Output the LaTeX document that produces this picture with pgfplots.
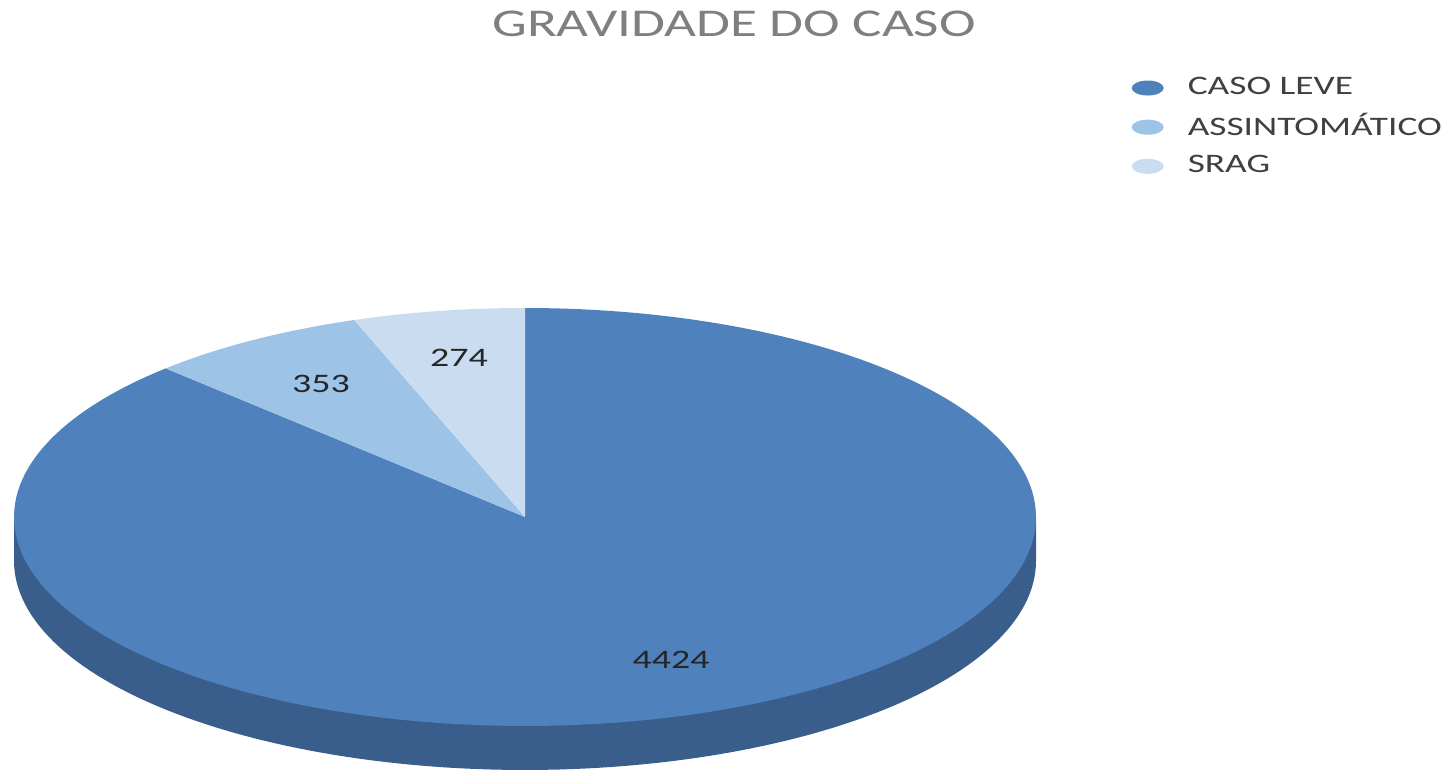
\documentclass[border=0pt]{standalone}
\usepackage{pgfplots}
\usepackage{pgfplotstable}
\pgfplotsset{compat=1.18}
\usepackage{fontspec}
\setmainfont{Carlito}
\definecolor{cLeve}{HTML}{4F81BD}
\definecolor{cLeveSide}{HTML}{3A5E8C}
\definecolor{cAssint}{HTML}{9DC3E6}
\definecolor{cSrag}{HTML}{C9DCF0}
\definecolor{titlegray}{HTML}{7F7F7F}
\definecolor{legtext}{HTML}{404040}
\pgfplotstableread{
label value
LEVE 4424
ASSINT 353
SRAG 274
}\piedata
\begin{document}%
\begin{tikzpicture}
\pgfplotstablegetelem{0}{value}\of\piedata \let\vLeve\pgfplotsretval
\pgfplotstablegetelem{1}{value}\of\piedata \let\vAssint\pgfplotsretval
\pgfplotstablegetelem{2}{value}\of\piedata \let\vSrag\pgfplotsretval
\pgfmathsetmacro{\tot}{\vLeve+\vAssint+\vSrag}
\pgfmathsetmacro{\aA}{90}
\pgfmathsetmacro{\aB}{90+360*(\vSrag/\tot)}
\pgfmathsetmacro{\aC}{\aB+360*(\vAssint/\tot)}
\pgfmathsetmacro{\aD}{450}
\def\cx{525}\def\cy{253}\def\rA{511}\def\rB{209}\def\dep{44}
\begin{axis}[
  name=ax,
  scale only axis, width=14.56cm, height=7.7cm,
  xmin=0, xmax=1456, ymin=0, ymax=770,
  hide axis, clip=false,
  legend style={draw=none, fill=none, at={(axis cs:1131,701)}, anchor=north west,
    font=\fontsize{7.6}{9}\selectfont\color{legtext}, row sep=0pt, inner sep=0pt,
    /tikz/every even column/.append style={column sep=0pt}},
  legend cell align=left,
  legend image code/.code={\fill[#1] (0.29cm,0cm) ellipse [x radius=0.16cm, y radius=0.075cm];
    \path[draw=none, fill=none] (0.13cm,0cm) (0.62cm,0cm);},
]
% side wall
\addplot[forget plot, fill=cLeveSide, draw=none, domain=180:360, samples=120, variable=\t]
  ({\cx+\rA*cos(t)}, {\cy-\dep+\rB*sin(t)}) -- (axis cs:\cx+\rA,\cy) -- (axis cs:\cx-\rA,\cy) -- cycle;
% top faces
\addplot[fill=cLeve, draw=none, domain=\aC:\aD, samples=200, variable=\t]
  ({\cx+\rA*cos(t)}, {\cy+\rB*sin(t)}) -- (axis cs:\cx,\cy) -- cycle;
\addlegendentry{\scalebox{1.4}[1]{CASO LEVE}}
\addplot[fill=cAssint, draw=none, domain=\aB:\aC, samples=40, variable=\t]
  ({\cx+\rA*cos(t)}, {\cy+\rB*sin(t)}) -- (axis cs:\cx,\cy) -- cycle;
\addlegendentry{\scalebox{1.4}[1]{ASSINTOMÁTICO}}
\addplot[fill=cSrag, draw=none, domain=\aA:\aB, samples=40, variable=\t]
  ({\cx+\rA*cos(t)}, {\cy+\rB*sin(t)}) -- (axis cs:\cx,\cy) -- cycle;
\addlegendentry{\scalebox{1.4}[1]{SRAG}}
% labels
\node[xscale=1.42, font=\fontsize{7.6}{9}\selectfont, text=black!85] at (axis cs:321,386) {\vAssint};
\node[xscale=1.42, font=\fontsize{7.6}{9}\selectfont, text=black!85] at (axis cs:459,412) {\vSrag};
\node[xscale=1.42, font=\fontsize{7.6}{9}\selectfont, text=black!85] at (axis cs:671,110) {\vLeve};
% title
\node[xscale=1.4, font=\fontsize{11.2}{13}\selectfont, text=titlegray] at (axis cs:734,746) {GRAVIDADE DO CASO};
\end{axis}
\pgfresetboundingbox
\path (ax.south west) rectangle (ax.north east);
\end{tikzpicture}%
\end{document}
